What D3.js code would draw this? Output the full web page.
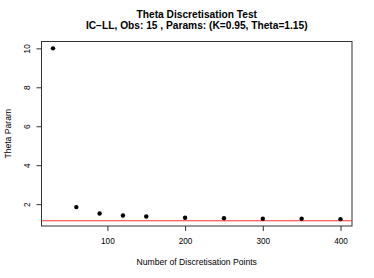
<!DOCTYPE html>
<html>
<head>
<meta charset="utf-8">
<script src="https://cdn.jsdelivr.net/npm/d3@7"></script>
<style>
  body { margin: 0; background: #fff; }
  svg { font-family: "Liberation Sans", Arial, sans-serif; }
</style>
</head>
<body>
<div id="chart"></div>
<script>
let points = [30, 60, 90, 120, 150, 200, 250, 300, 350, 400];
let thetaVals = [10.0, 1.85, 1.52, 1.42, 1.37, 1.30, 1.28, 1.25, 1.25, 1.23];
let trueTheta = 1.15;
let xTicks = [100, 200, 300, 400];
let yTicks = [2, 4, 6, 8, 10];
let titleLines = ["Theta Discretisation Test", "IC\u2212LL, Obs: 15 , Params: (K=0.95, Theta=1.15)"];

let width = 374,
  height = 278,
  plotLeft = 41.5,
  plotRight = 352,
  plotTop = 41.5,
  plotBottom = 226,
  labelSize = 8.2;

let svg = d3
  .select("#chart")
  .append("svg")
  .attr("width", width)
  .attr("height", height);

// R style 4% padding on data range
let xExt = d3.extent(points), xPad = (xExt[1] - xExt[0]) * 0.04;
let yExt = d3.extent(thetaVals), yPad = (yExt[1] - yExt[0]) * 0.04;

let xScale = d3
  .scaleLinear()
  .domain([xExt[0] - xPad, xExt[1] + xPad])
  .range([plotLeft, plotRight]);

let yScale = d3
  .scaleLinear()
  .domain([yExt[0] - yPad, yExt[1] + yPad])
  .range([plotBottom, plotTop]);

let xAxis = svg
  .append("g")
  .attr("transform", "translate(0," + plotBottom + ")")
  .call(d3.axisBottom(xScale).tickValues(xTicks).tickSize(5).tickPadding(7.5));
xAxis.select(".domain").remove();
xAxis.selectAll("line").attr("stroke", "#333");
xAxis.selectAll("text").attr("font-size", labelSize).attr("fill", "#000").attr("font-family", null);

let yAxis = svg
  .append("g")
  .attr("transform", "translate(" + plotLeft + ",0)")
  .call(d3.axisLeft(yScale).tickValues(yTicks).tickSize(5));
yAxis.select(".domain").remove();
yAxis.selectAll("line").attr("stroke", "#333");
yAxis
  .selectAll("text")
  .attr("x", 0)
  .attr("y", -12)
  .attr("dy", 0)
  .attr("transform", "rotate(-90)")
  .attr("text-anchor", "middle")
  .attr("font-size", labelSize)
  .attr("fill", "#000")
  .attr("font-family", null);

svg
  .append("rect")
  .attr("x", plotLeft)
  .attr("y", plotTop)
  .attr("width", plotRight - plotLeft)
  .attr("height", plotBottom - plotTop)
  .attr("fill", "none")
  .attr("stroke", "#333");

svg
  .append("line")
  .attr("x1", plotLeft)
  .attr("x2", plotRight)
  .attr("y1", yScale(trueTheta))
  .attr("y2", yScale(trueTheta))
  .attr("stroke", "#ff3030")
  .attr("stroke-width", 1.1);

svg
  .selectAll("circle")
  .data(points)
  .enter()
  .append("circle")
  .attr("cx", (d) => xScale(d))
  .attr("cy", (d, i) => yScale(thetaVals[i]))
  .attr("r", 2.2)
  .attr("fill", "#000");

svg
  .selectAll(".title")
  .data(titleLines)
  .enter()
  .append("text")
  .attr("class", "title")
  .attr("x", (plotLeft + plotRight) / 2)
  .attr("y", (d, i) => 17.5 + i * 11)
  .attr("text-anchor", "middle")
  .attr("font-size", 10.2)
  .attr("font-weight", "bold")
  .text((d) => d);

svg
  .append("text")
  .attr("x", (plotLeft + plotRight) / 2)
  .attr("y", 264.5)
  .attr("text-anchor", "middle")
  .attr("font-size", labelSize + 0.4)
  .attr("fill", "#000")
  .text("Number of Discretisation Points");

svg
  .append("text")
  .attr("transform", "translate(11," + (plotTop + plotBottom) / 2 + ") rotate(-90)")
  .attr("text-anchor", "middle")
  .attr("font-size", labelSize + 0.4)
  .attr("fill", "#000")
  .text("Theta Param");
</script>
</body>
</html>
